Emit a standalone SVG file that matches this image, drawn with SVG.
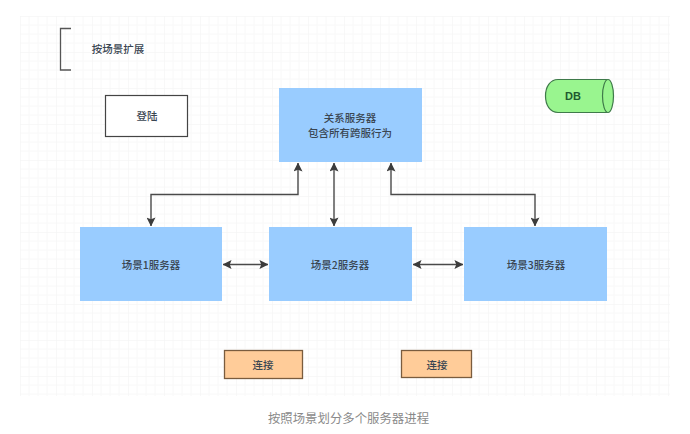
<svg xmlns="http://www.w3.org/2000/svg" width="690" height="434" viewBox="0 0 690 434">
<style>
text{font-family:"Noto Sans CJK SC","Liberation Sans",sans-serif;text-anchor:middle;font-size:10.5px;font-weight:500;fill:#3a4652}
.blue{fill:#99ccff;stroke:none}
.c{fill:none;stroke:#4a4a4a;stroke-width:1.4;marker-start:url(#a);marker-end:url(#a)}
.mn{stroke:#f8f8f8;stroke-width:1;fill:none}
.mj{stroke:#f1f2f2;stroke-width:1;fill:none}
</style>
<defs>
<marker id="a" viewBox="0 0 10 10" refX="9.5" refY="5" markerUnits="userSpaceOnUse" markerWidth="9" markerHeight="9" orient="auto-start-reverse"><path d="M0 0L10 5L0 10L2 5Z" fill="#3c3c3c"/></marker>
<pattern id="g" width="36" height="36" patternUnits="userSpaceOnUse" x="20" y="16">
<path class="mn" d="M9 0V36M18 0V36M27 0V36M0 9H36M0 18H36M0 27H36"/>
<path class="mj" d="M0 0V36M0 0H36"/>
</pattern>
</defs>
<rect width="690" height="434" fill="#ffffff"/>
<rect x="20" y="16" width="650" height="380" fill="url(#g)"/>
<g id="legend"><path d="M71 28.500H60.500V70H71" fill="none" stroke="#555" stroke-width="1.300"/><text x="118" y="53">按场景扩展</text></g>
<g id="login"><rect x="105.500" y="95.500" width="82" height="41" fill="#fff" stroke="#444" stroke-width="1.200"/><text x="147" y="119.500">登陆</text></g>
<g id="db"><path d="M558 79.500H607V112.500H558C550 112.500 545.500 105 545.500 96C545.500 87 550 79.500 558 79.500Z" fill="#99f58f" stroke="#3f7a4a" stroke-width="1.200"/><ellipse cx="608" cy="96" rx="5.500" ry="16.500" fill="#99f58f" stroke="#3f7a4a" stroke-width="1.200"/><text x="573" y="100" style="font-family:'Liberation Sans',sans-serif;font-weight:700;font-size:11px;fill:#1f5a2f">DB</text></g>
<g id="relation"><rect class="blue" x="279" y="88" width="143" height="74"/><text x="350" y="122">关系服务器</text><text x="350" y="137">包含所有跨服行为</text></g>
<g id="scene1"><rect class="blue" x="80" y="227" width="142" height="74"/><text x="151" y="269">场景1服务器</text></g>
<g id="scene2"><rect class="blue" x="269" y="227" width="143" height="74"/><text x="340" y="269">场景2服务器</text></g>
<g id="scene3"><rect class="blue" x="464" y="227" width="143" height="74"/><text x="536" y="269">场景3服务器</text></g>
<g id="conn1"><rect x="224.500" y="350.500" width="78" height="28" fill="#ffcc99" stroke="#7a5c3e" stroke-width="1.300"/><text x="263" y="369">连接</text></g>
<g id="conn2"><rect x="401.500" y="350.500" width="70" height="27" fill="#ffcc99" stroke="#7a5c3e" stroke-width="1.300"/><text x="437" y="369">连接</text></g>
<g id="connectors">
<path class="c" d="M151 226V194.500H298V163"/>
<path class="c" d="M334 226V163"/>
<path class="c" d="M535 226V194.500H391V163"/>
<path class="c" d="M223 264.500H268"/>
<path class="c" d="M413 264.500H463"/>
</g>
<text x="348.500" y="423" style="font-size:12.400px;font-weight:400;fill:#8a8a8a">按照场景划分多个服务器进程</text>
</svg>
